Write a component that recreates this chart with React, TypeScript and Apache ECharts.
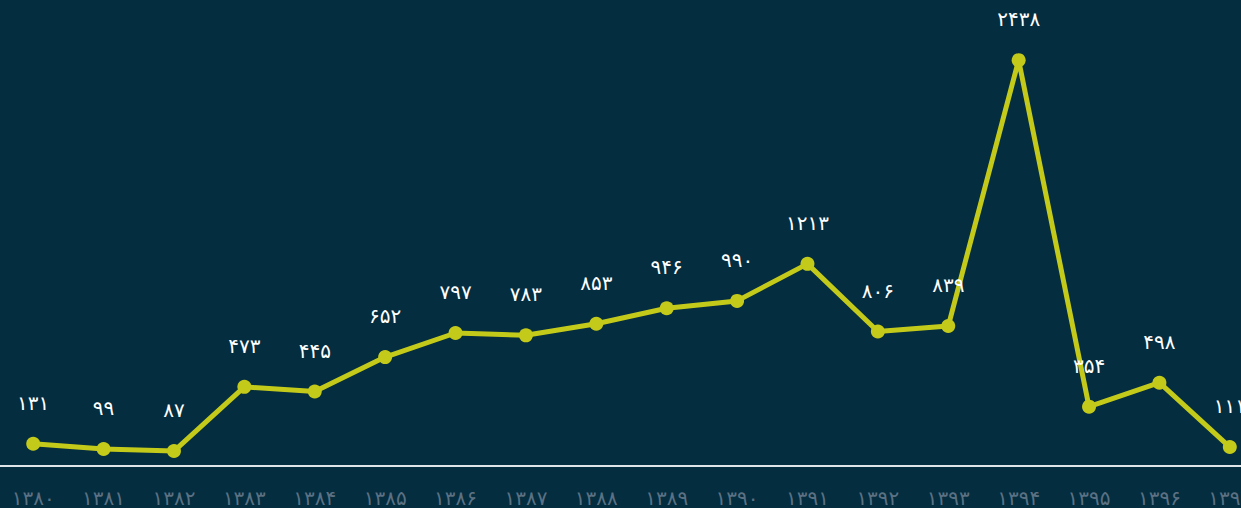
import React, { useEffect, useRef } from "react";
import * as echarts from "echarts";

const years = ["۱۳۸۰", "۱۳۸۱", "۱۳۸۲", "۱۳۸۳", "۱۳۸۴", "۱۳۸۵", "۱۳۸۶", "۱۳۸۷", "۱۳۸۸", "۱۳۸۹", "۱۳۹۰", "۱۳۹۱", "۱۳۹۲", "۱۳۹۳", "۱۳۹۴", "۱۳۹۵", "۱۳۹۶", "۱۳۹۷"];
const values = [131, 99, 87, 473, 445, 652, 797, 783, 853, 946, 990, 1213, 806, 839, 2438, 354, 498, 111];

const faDigits = "۰۱۲۳۴۵۶۷۸۹";
const toFa = (n: number) => String(n).replace(/\d/g, (d) => faDigits[Number(d)]);

export default function App() {
  const ref = useRef<HTMLDivElement>(null);
  useEffect(() => {
    document.body.style.margin = "0";
    document.body.style.background = "#042d3f";
    const chart = echarts.init(ref.current!, null, { renderer: "svg" });
    chart.setOption({
      animation: false,
      backgroundColor: "#042d3f",
      grid: { left: 0, width: 1267, top: 0, bottom: 42.5, containLabel: false },
      xAxis: {
        type: "category",
        data: years,
        boundaryGap: true,
        axisLine: { lineStyle: { color: "#dfe4e8", width: 2 } },
        axisTick: { show: false },
        axisLabel: {
          color: "#5b7183",
          fontSize: 20,
          fontFamily: "DejaVu Sans",
          margin: 22,
          interval: 0,
        },
        splitLine: { show: false },
      },
      yAxis: {
        type: "value",
        min: 0,
        max: 2800,
        show: false,
        splitLine: { show: false },
      },
      series: [
        {
          type: "line",
          data: values,
          symbol: "circle",
          symbolSize: 14,
          lineStyle: { color: "#c4ca1a", width: 5 },
          itemStyle: { color: "#c4ca1a" },
          label: {
            show: true,
            position: "top",
            distance: 24,
            color: "#ffffff",
            fontSize: 20,
            fontFamily: "DejaVu Sans",
            formatter: (p: any) => toFa(p.value),
          },
        },
      ],
    });
    return () => chart.dispose();
  }, []);
  return (
    <div style={{ width: 1241, height: 508, overflow: "hidden", background: "#042d3f" }}>
      <div ref={ref} style={{ width: 1270, height: 508, marginLeft: -2, background: "#042d3f" }} />
    </div>
  );
}
